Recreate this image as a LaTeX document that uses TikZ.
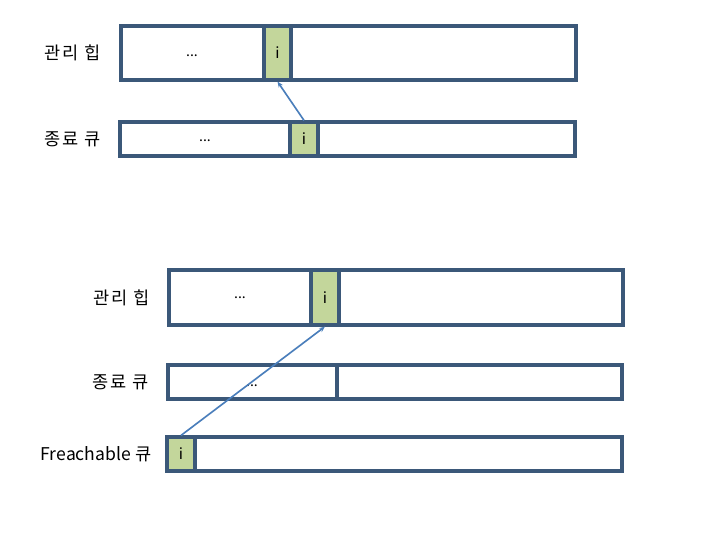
\documentclass[tikz,border=0pt]{standalone}
\usepackage{fontspec}
\setmainfont{Noto Sans CJK KR}
\usetikzlibrary{positioning, arrows.meta, fit}

\definecolor{rowline}{HTML}{3B5879}
\definecolor{cellgreen}{HTML}{C3D69B}
\definecolor{ptrblue}{HTML}{4A7EBB}

\begin{document}
\begin{tikzpicture}[
        x=0.03cm, y=-0.03cm,
        rowbox/.style={rectangle, draw=rowline, line width=2.7pt, fill=white, inner sep=0pt},
        cellbox/.style={rectangle, draw=rowline, line width=2.7pt, fill=cellgreen, inner sep=0pt},
        celltxt/.style={font=\fontsize{13}{14}\selectfont, inner sep=0pt},
        lbl/.style={font=\fontsize{15}{17}\selectfont\addfontfeature{LetterSpace=12}, inner sep=0pt},
        latlbl/.style={font=\fontsize{15}{17}\selectfont, inner sep=0pt},
        dotlbl/.style={font=\fontsize{12}{14}\selectfont, inner sep=0pt},
        arr/.style={-{Stealth[length=5pt, width=4pt]}, line width=1.4pt, ptrblue},
    ]
        \useasboundingbox (0,0) rectangle (720,540);

        % Top: before collection
        \node[rowbox, fit={(121,26) (576,80)}] (heapA) {};
        \node[cellbox, fit={(264,26) (291,80)}] (heapAi) {};
        \node[celltxt] at (heapAi.center) {i};
        \node[dotlbl] (heapAdots) at (192,56) {...};
        \node[lbl, left=0.55cm of heapA] (heapAlbl) {관리 힙};

        \node[rowbox, fit={(120,122) (575,156)}] (finA) {};
        \node[cellbox, fit={(290,122) (318,156)}] (finAi) {};
        \node[celltxt] at (finAi.center) {i};
        \node[dotlbl] (finAdots) at (205,141) {...};
        \node[lbl, left=0.52cm of finA] (finAlbl) {종료 큐};

        \draw[arr] (finAi.north) -- (heapAi.south);

        % Bottom: after moving to freachable queue
        \node[rowbox, fit={(169,270) (623,325)}] (heapB) {};
        \node[cellbox, fit={(311,270) (339,325)}] (heapBi) {};
        \node[celltxt] at (heapBi.center) {i};
        \node[dotlbl] (heapBdots) at (240,298) {...};
        \node[lbl, left=0.52cm of heapB] (heapBlbl) {관리 힙};

        \node[rowbox, fit={(168,365) (622,399)}] (finB) {};
        \node[rowbox, fit={(168,365) (337,399)}] (finBleft) {};
        \node[dotlbl] (finBdots) at (252,386) {...};
        \node[lbl, left=0.52cm of finB] (finBlbl) {종료 큐};

        \node[rowbox, fit={(167,437) (622,471)}] (freach) {};
        \node[cellbox, fit={(167,437) (195,471)}] (freachi) {};
        \node[celltxt] at (freachi.center) {i};
        \node[latlbl, left=0.42cm of freach] (freachlbl) {Freachable 큐};

        \draw[arr] (freachi.north) -- (heapBi.south);
    \end{tikzpicture}
\end{document}
